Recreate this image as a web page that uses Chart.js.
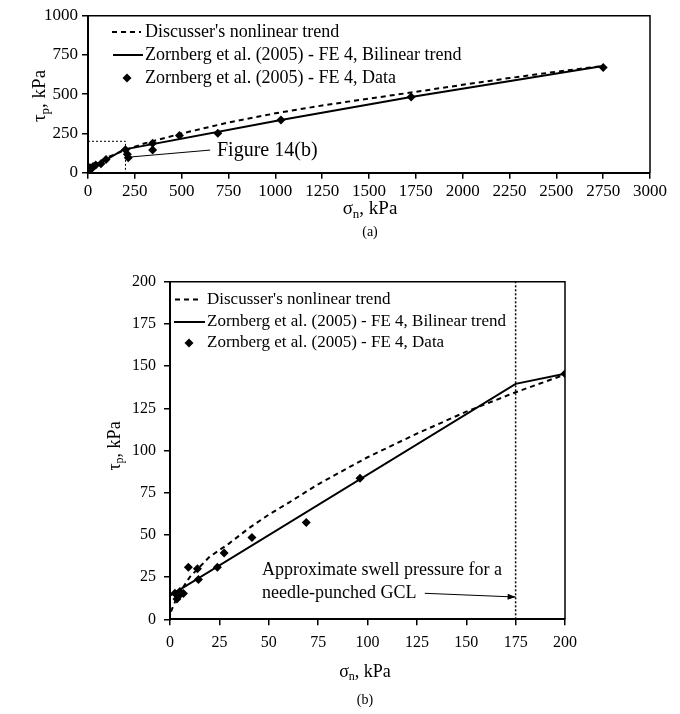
<!DOCTYPE html>
<html><head><meta charset="utf-8">
<script src="https://cdn.jsdelivr.net/npm/chart.js@4.4.1/dist/chart.umd.min.js"></script>
<style>
html,body{margin:0;padding:0;background:#fff;width:680px;height:714px;overflow:hidden}
#c1{position:absolute;left:0;top:0}
#c2{position:absolute;left:0;top:240px}
</style></head><body>
<canvas id="c1" width="680" height="240"></canvas>
<canvas id="c2" width="680" height="474"></canvas>
<script>
// ---------- Data ----------
// Panel (a)
const aTrendX = [0, 10, 50, 100, 200, 300, 500, 750, 1000, 1250, 1500, 1750, 2000, 2250, 2500, 2750];
const aTrendY = [0, 25, 62, 96, 145, 186, 250, 320, 378, 428, 472, 515, 560, 603, 643, 680];
const aBilinX = [0, 189, 1030, 1725, 2750];
const aBilinY = [14, 147, 336, 482, 680];
const aDataX = [2.5, 3.5, 4.5, 5, 6.8, 9.3, 13.9, 14.4, 24, 27.4, 41.5, 69, 96.2, 200, 210, 215, 345, 345, 488, 693, 1030, 1725, 2750];
const aDataY = [15.5, 12, 14, 16.5, 15.3, 30.8, 29.9, 23.6, 30.8, 39.3, 48.5, 57.4, 83.5, 145.5, 117, 95, 187, 145, 237, 252, 336, 482, 670];
const aBoxX = [0, 200, 200];
const aBoxY = [200, 200, 0];
const aLeaderX = [206, 652];
const aLeaderY = [98, 144];
const aTicksX = [0, 3000, 250];
const aTicksY = [0, 1000, 250];

// Panel (b)
const bTrendX = [0.5, 2, 5, 10, 20, 30, 40, 50, 60, 75, 100, 125, 150, 175, 200];
const bTrendY = [4.5, 9, 16, 25, 37, 45, 54, 62, 69, 80, 96, 110, 123, 134.5, 145];
const bBilinX = [0, 175, 200];
const bBilinY = [14, 139.5, 145.5];
const bDataX = [2.5, 3.5, 4.5, 5, 6.8, 9.3, 13.9, 14.4, 24, 27.4, 41.5, 69, 96.2, 200];
const bDataY = [15.5, 12, 14, 16.5, 15.3, 30.8, 29.9, 23.6, 30.8, 39.3, 48.5, 57.4, 83.5, 145.5];
const bSwellX = [175, 175];
const bSwellY = [0, 200];
const bArrowX = [129, 175];
const bArrowY = [15.4, 13.2];
const bTicksX = [0, 200, 25];
const bTicksY = [0, 200, 25];

const legendLabels = ["Discusser's nonlinear trend", "Zornberg et al. (2005) - FE 4, Bilinear trend", "Zornberg et al. (2005) - FE 4, Data"];

// ---------- helpers ----------
const FONT = '"Liberation Serif", "Times New Roman", serif';
const pts = (xs, ys) => xs.map((x, i) => ({x: x, y: ys[i]}));

function lineDs(xs, ys, width, dash, name) {
  return {label: name, data: pts(xs, ys), showLine: true, pointRadius: 0, pointHoverRadius: 0,
    borderColor: '#000', backgroundColor: '#000', borderWidth: width, borderDash: dash, fill: false, tension: 0};
}
function dataDs(xs, ys) {
  return {label: 'data', data: pts(xs, ys), showLine: false, pointStyle: 'rectRot', pointRadius: 4.5,
    pointBackgroundColor: '#000', pointBorderColor: '#000', pointBorderWidth: 0};
}
function axis(t, size, pad, fitFn) {
  return {type: 'linear', min: t[0], max: t[1],
    ticks: {stepSize: t[2], color: '#000', font: {family: FONT, size: size}, padding: pad, maxRotation: 0, autoSkip: false,
      callback: v => String(v)},
    grid: {display: true, drawOnChartArea: false, drawTicks: true, tickLength: 6, color: '#000', lineWidth: 1.5},
    border: {display: true, color: '#000', width: 2},
    afterFit: fitFn};
}
function subText(ctx, base, sub, rest, x, y, size, rot) {
  ctx.save();
  ctx.translate(x, y);
  if (rot) ctx.rotate(-Math.PI / 2);
  ctx.fillStyle = '#000';
  ctx.textBaseline = 'middle';
  ctx.font = size + 'px ' + FONT;
  const w1 = ctx.measureText(base).width;
  const w3 = ctx.measureText(rest).width;
  ctx.font = Math.round(size * 0.68) + 'px ' + FONT;
  const w2 = ctx.measureText(sub).width;
  let sx = -(w1 + w2 + w3) / 2;
  ctx.font = size + 'px ' + FONT;
  ctx.textAlign = 'left';
  ctx.fillText(base, sx, 0);
  ctx.font = Math.round(size * 0.68) + 'px ' + FONT;
  ctx.fillText(sub, sx + w1, size * 0.28);
  ctx.font = size + 'px ' + FONT;
  ctx.fillText(rest, sx + w1 + w2, 0);
  ctx.restore();
}
function drawLegend(ctx, L) {
  ctx.save();
  ctx.strokeStyle = '#000'; ctx.fillStyle = '#000';
  ctx.font = L.size + 'px ' + FONT;
  ctx.textBaseline = 'middle'; ctx.textAlign = 'left';
  // dashed
  ctx.lineWidth = 2; ctx.setLineDash([5, 4]);
  ctx.beginPath(); ctx.moveTo(L.dash[0], L.rows[0]); ctx.lineTo(L.dash[1], L.rows[0]); ctx.stroke();
  ctx.setLineDash([]);
  ctx.beginPath(); ctx.moveTo(L.solid[0], L.rows[1]); ctx.lineTo(L.solid[1], L.rows[1]); ctx.stroke();
  // diamond
  const r = 4.5, cx = L.dia, cy = L.rows[2];
  ctx.beginPath(); ctx.moveTo(cx, cy - r); ctx.lineTo(cx + r, cy); ctx.lineTo(cx, cy + r); ctx.lineTo(cx - r, cy); ctx.closePath(); ctx.fill();
  for (let i = 0; i < 3; i++) ctx.fillText(legendLabels[i], L.tx, L.rows[i]);
  ctx.restore();
}
function frame(ctx, a) {
  ctx.save();
  ctx.strokeStyle = '#000'; ctx.lineWidth = 1.5;
  ctx.beginPath();
  ctx.moveTo(a.left, a.top); ctx.lineTo(a.right, a.top); ctx.lineTo(a.right, a.bottom);
  ctx.stroke();
  ctx.restore();
}

// ---------- Panel (a) ----------
const decorA = {
  id: 'decorA',
  afterDraw(chart) {
    const ctx = chart.ctx, a = chart.chartArea;
    frame(ctx, a);
    drawLegend(ctx, {size: 18, rows: [32, 55, 78], dash: [112, 141], solid: [113, 143], dia: 127, tx: 145});
    ctx.save();
    ctx.fillStyle = '#000'; ctx.textBaseline = 'middle'; ctx.textAlign = 'left';
    ctx.font = '20px ' + FONT;
    ctx.fillText('Figure 14(b)', 217, 151);
    ctx.textAlign = 'center';
    ctx.font = '14px ' + FONT;
    ctx.fillText('(a)', 370, 232);
    ctx.restore();
    subText(ctx, 'σ', 'n', ', kPa', 370, 209, 19, false);
    subText(ctx, 'τ', 'p', ', kPa', 40, 96, 19, true);
  }
};
new Chart(document.getElementById('c1'), {
  type: 'scatter',
  data: {datasets: [
    lineDs(aTrendX, aTrendY, 2, [5, 4], 'trend'),
    lineDs(aBilinX, aBilinY, 2, [], 'bilinear'),
    dataDs(aDataX, aDataY),
    lineDs(aBoxX, aBoxY, 1, [2, 2], 'box'),
    lineDs(aLeaderX, aLeaderY, 1, [], 'leader')
  ]},
  options: {
    responsive: false, animation: false, devicePixelRatio: 1,
    layout: {padding: {left: 0, right: 30, top: 15.7, bottom: 0}},
    plugins: {legend: {display: false}, tooltip: {enabled: false}},
    scales: {
      x: axis(aTicksX, 17, 3, s => { s.height = 67.3; }),
      y: axis(aTicksY, 17, 4, s => { s.width = 88; })
    }
  },
  plugins: [decorA]
});

// ---------- Panel (b) ----------
const decorB = {
  id: 'decorB',
  afterDraw(chart) {
    const ctx = chart.ctx, a = chart.chartArea;
    frame(ctx, a);
    drawLegend(ctx, {size: 17, rows: [59.5, 82, 103], dash: [175, 202], solid: [174, 205], dia: 189, tx: 207});
    // arrowhead at the end of the swell-pressure leader
    const xs = chart.scales.x, ys = chart.scales.y;
    const x1 = xs.getPixelForValue(bArrowX[0]), y1 = ys.getPixelForValue(bArrowY[0]);
    const x2 = xs.getPixelForValue(bArrowX[1]), y2 = ys.getPixelForValue(bArrowY[1]);
    const ang = Math.atan2(y2 - y1, x2 - x1);
    ctx.save();
    ctx.fillStyle = '#000';
    ctx.beginPath();
    ctx.moveTo(x2, y2);
    ctx.lineTo(x2 - 8 * Math.cos(ang) + 3 * Math.sin(ang), y2 - 8 * Math.sin(ang) - 3 * Math.cos(ang));
    ctx.lineTo(x2 - 8 * Math.cos(ang) - 3 * Math.sin(ang), y2 - 8 * Math.sin(ang) + 3 * Math.cos(ang));
    ctx.closePath(); ctx.fill();
    ctx.textBaseline = 'middle'; ctx.textAlign = 'left';
    ctx.font = '18px ' + FONT;
    ctx.fillText('Approximate swell pressure for a', 262, 330);
    ctx.fillText('needle-punched GCL', 262, 353);
    ctx.textAlign = 'center';
    ctx.font = '14px ' + FONT;
    ctx.fillText('(b)', 365, 460);
    ctx.restore();
    subText(ctx, 'σ', 'n', ', kPa', 365, 432, 18, false);
    subText(ctx, 'τ', 'p', ', kPa', 115, 206, 18, true);
  }
};
new Chart(document.getElementById('c2'), {
  type: 'scatter',
  data: {datasets: [
    lineDs(bTrendX, bTrendY, 2, [5, 4], 'trend'),
    lineDs(bBilinX, bBilinY, 2, [], 'bilinear'),
    dataDs(bDataX, bDataY),
    lineDs(bSwellX, bSwellY, 1.5, [2, 2], 'swell'),
    lineDs(bArrowX, bArrowY, 1, [], 'arrow')
  ]},
  options: {
    responsive: false, animation: false, devicePixelRatio: 1,
    layout: {padding: {left: 0, right: 115, top: 41.7, bottom: 0}},
    plugins: {legend: {display: false}, tooltip: {enabled: false}},
    scales: {
      x: axis(bTicksX, 16, 8, s => { s.height = 94.7; }),
      y: axis(bTicksY, 16, 8, s => { s.width = 170; })
    }
  },
  plugins: [decorB]
});
</script>
</body></html>
